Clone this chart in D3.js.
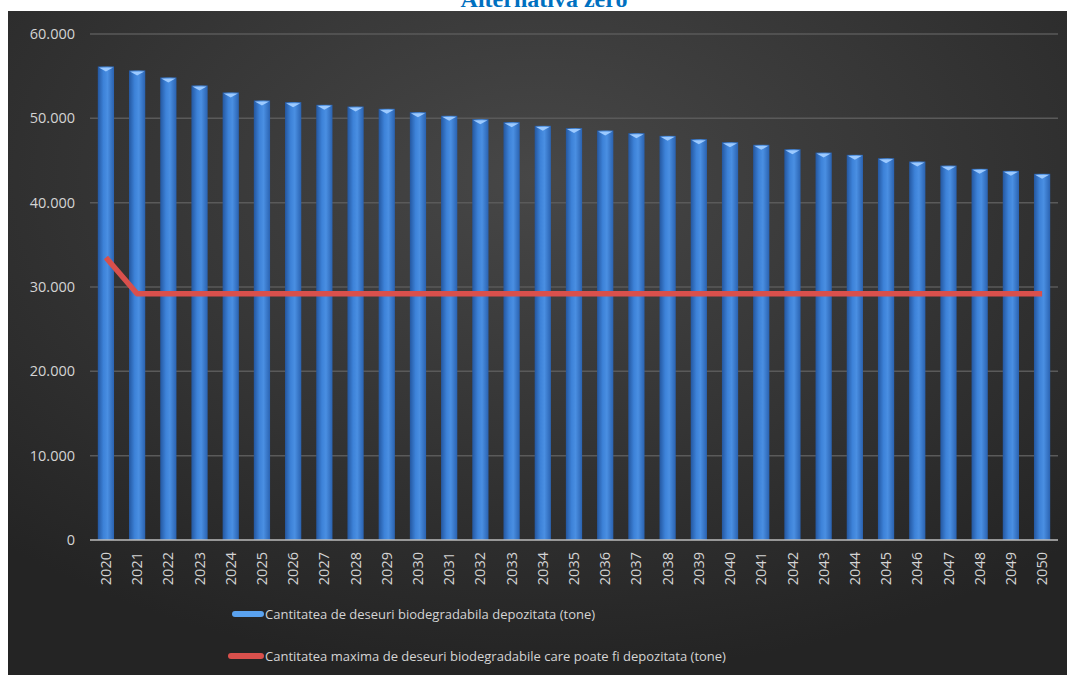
<!DOCTYPE html>
<html><head><meta charset="utf-8">
<script src="https://cdn.jsdelivr.net/npm/d3@7"></script>
<style>body{margin:0;background:#fff;}svg{display:block;}</style>
</head><body>
<script>
const years = d3.range(2020, 2051).map(String);
const depozitata = [56150,55680,54850,53900,53070,52120,51920,51600,51400,51130,50730,
  50300,49900,49550,49110,48840,48560,48240,47920,47530,47170,46860,
  46340,45940,45670,45270,44880,44400,44010,43770,43420];
const maxima = [33500,29200,29200,29200,29200,29200,29200,29200,29200,29200,29200,
  29200,29200,29200,29200,29200,29200,29200,29200,29200,29200,29200,
  29200,29200,29200,29200,29200,29200,29200,29200,29200];
const yTicks = [0,10000,20000,30000,40000,50000,60000];
const seriesNames = ["Cantitatea de deseuri biodegradabila depozitata (tone)",
  "Cantitatea maxima de deseuri biodegradabile care poate fi depozitata (tone)"];
const title = "Alternativa zero";

const W = 1067, H = 675;
const svg = d3.select("body").append("svg").attr("width", W).attr("height", H);
const defs = svg.append("defs");
const bg = defs.append("radialGradient").attr("id","bg").attr("cx","50%").attr("cy","25%").attr("r","75%");
bg.append("stop").attr("offset","0%").attr("stop-color","#474747");
bg.append("stop").attr("offset","100%").attr("stop-color","#242424");
const bar = defs.append("linearGradient").attr("id","bar").attr("x1","0").attr("x2","1").attr("y1","0").attr("y2","0");
bar.append("stop").attr("offset","0%").attr("stop-color","#2457a0");
bar.append("stop").attr("offset","35%").attr("stop-color","#3d82d8");
bar.append("stop").attr("offset","60%").attr("stop-color","#4a8fe2");
bar.append("stop").attr("offset","100%").attr("stop-color","#2a62b0");

svg.append("rect").attr("x",8).attr("y",11).attr("width",W-8).attr("height",H-11).attr("fill","url(#bg)");

svg.append("text").attr("x",544).attr("y",7).attr("text-anchor","middle")
  .attr("font-family","Liberation Serif").attr("font-weight","bold").attr("font-size",24)
  .attr("fill","#0070c0").text(title);

const x = d3.scaleBand().domain(years).range([90,1058]).paddingInner(0.48).paddingOuter(0.25);
const y = d3.scaleLinear().domain([0,60000]).range([540,34]);

const grid = svg.append("g");
grid.selectAll("line").data(yTicks.filter(d=>d>0)).join("line")
  .attr("x1",90).attr("x2",1058).attr("y1",d=>y(d)).attr("y2",d=>y(d))
  .attr("stroke","#5a5a5a").attr("stroke-width",1.5);

const fmt = d => d===0 ? "0" : d3.format(",")(d).replace(/,/g,".");
const yAxis = svg.append("g").attr("transform","translate(75,0)")
  .call(d3.axisLeft(y).tickValues(yTicks).tickFormat(fmt).tickSize(0).tickPadding(0));
yAxis.select(".domain").remove();
yAxis.selectAll("text").attr("font-family","Open Sans").attr("font-size",14.5).attr("fill","#d4d4d4");

const bw = x.bandwidth();
const bars = svg.append("g").selectAll("g").data(years).join("g");
bars.append("rect").attr("x",d=>x(d)).attr("y",(d,i)=>y(depozitata[i]))
  .attr("width",bw).attr("height",(d,i)=>y(0)-y(depozitata[i])).attr("fill","url(#bar)");
bars.append("path").attr("d",(d,i)=>{
  const x0=x(d), yt=y(depozitata[i]);
  return `M${x0+1},${yt+1}L${x0+bw-1},${yt+1}L${x0+bw/2},${yt+5}Z`;
}).attr("fill","#9ccaff");

svg.append("line").attr("x1",90).attr("x2",1058).attr("y1",y(0)).attr("y2",y(0))
  .attr("stroke","#bdbdbd").attr("stroke-width",1.5);

const line = d3.line().x((d,i)=>x(years[i])+bw/2).y(d=>y(d));
svg.append("path").datum(maxima).attr("d",line).attr("fill","none")
  .attr("stroke","#d9504c").attr("stroke-width",5.5).attr("stroke-linejoin","round");

const xAxis = svg.append("g").attr("transform",`translate(0,${y(0)})`)
  .call(d3.axisBottom(x).tickSize(0).tickPadding(0));
xAxis.select(".domain").remove();
xAxis.selectAll("text").attr("font-family","Open Sans").attr("font-size",14.5).attr("fill","#d4d4d4")
  .attr("transform","rotate(-90)").attr("text-anchor","end").attr("dx","-12px").attr("dy","0.35em").attr("y",0).attr("x",0);

const leg = svg.append("g");
leg.append("rect").attr("x",232).attr("y",611).attr("width",32).attr("height",6).attr("rx",3).attr("fill","#5aa2ef");
leg.append("rect").attr("x",228).attr("y",653).attr("width",36).attr("height",6).attr("rx",3).attr("fill","#d9504c");
leg.selectAll("text").data(seriesNames).join("text")
  .attr("x",265).attr("y",(d,i)=>619+i*42)
  .attr("font-family","Open Sans").attr("font-size",13).attr("fill","#d4d4d4").text(d=>d);
</script>
</body></html>
